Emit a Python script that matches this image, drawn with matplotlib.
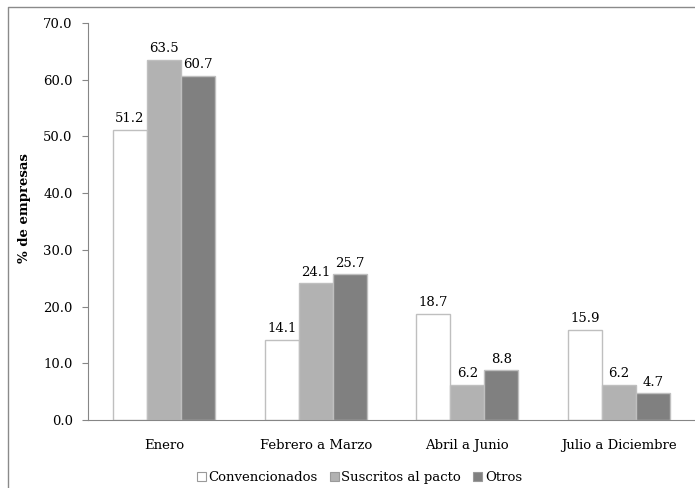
import numpy as np
import matplotlib.pyplot as plt
from matplotlib.lines import Line2D

categorias = ["Enero", "Febrero a Marzo", "Abril a Junio", "Julio a Diciembre"]
series = ["Convencionados", "Suscritos al pacto", "Otros"]
convencionados = [51.2, 14.1, 18.7, 15.9]
suscritos = [63.5, 24.1, 6.2, 6.2]
otros = [60.7, 25.7, 8.8, 4.7]

colores = ["#ffffff", "#b2b2b2", "#808080"]
plt.rcParams["font.family"] = ["DejaVu Serif"]

fig = plt.figure(figsize=(6.95, 4.88), dpi=100)
ax = fig.add_axes([88 / 695, 68 / 488, 1 - 88 / 695, (420 - 23) / 488])

x = np.arange(len(categorias))
w = 0.224
for i, (vals, col) in enumerate(zip([convencionados, suscritos, otros], colores)):
    pos = x + (i - 1) * w
    ax.bar(pos, vals, w, color=col, edgecolor="#bfbfbf", linewidth=1, label=series[i])
    for p, v in zip(pos, vals):
        ax.text(p, v + 0.8, f"{v:.1f}", ha="center", va="bottom", fontsize=9.5)

ax.set_xlim(-0.5, 3.5)
ax.set_ylim(0, 70)
ax.set_yticks(np.arange(0, 71, 10))
ax.set_yticklabels([f"{t:.1f}" for t in np.arange(0, 71, 10)], fontsize=9.5)
ax.set_xticks(x)
ax.set_xticklabels(categorias, fontsize=9.5)
ax.tick_params(axis="x", length=0, pad=14)
ax.tick_params(axis="y", length=4, color="#868686", pad=7)
for s in ["top", "right"]:
    ax.spines[s].set_visible(False)
for s in ["left", "bottom"]:
    ax.spines[s].set_color("#868686")
ax.set_ylabel("% de empresas", fontsize=9.5, fontweight="bold")
ax.yaxis.set_label_coords(-0.094, 0.535)

handles = [plt.Rectangle((0, 0), 1, 1, facecolor=c, edgecolor="#9a9a9a", linewidth=0.8) for c in colores]
fig.legend(handles, series, loc="center", bbox_to_anchor=(0.517, 0.022), ncol=3,
           frameon=False, fontsize=9.5, handlelength=0.7, handleheight=0.7,
           handletextpad=0.2, columnspacing=0.9)

fig.add_artist(Line2D([8 / 695, 8 / 695, 1], [0, 481 / 488, 481 / 488],
                      color="#8a8a8a", linewidth=1, transform=fig.transFigure))

fig.savefig("out.png", dpi=100)
